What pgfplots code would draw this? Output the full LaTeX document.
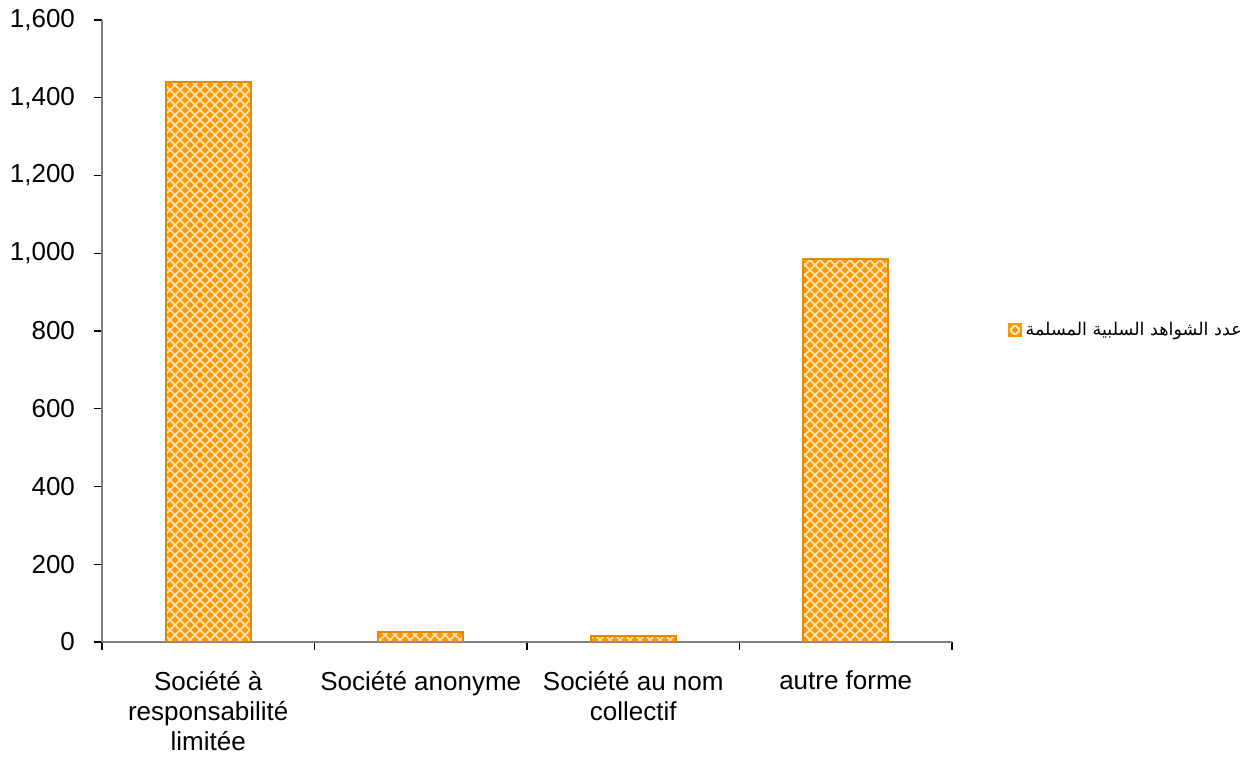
\documentclass[border=0pt]{standalone}
\usepackage{fontspec}
\setmainfont{Liberation Sans}
\newfontfamily\arabicfont[Script=Arabic]{DejaVu Sans}
\TeXXeTstate=1
\usepackage{pgfplots}
\pgfplotsset{compat=1.18}
\usetikzlibrary{patterns,calc}
\definecolor{barorange}{HTML}{FF9900}
\definecolor{axgray}{HTML}{808080}
\pgfdeclarepatternformonly{diamondmesh}{\pgfqpoint{-1pt}{-1pt}}{\pgfqpoint{6pt}{6pt}}{\pgfqpoint{5pt}{5pt}}{%
  \pgfsetlinewidth{0.75pt}%
  \pgfpathmoveto{\pgfqpoint{0pt}{0pt}}\pgfpathlineto{\pgfqpoint{5pt}{5pt}}%
  \pgfpathmoveto{\pgfqpoint{0pt}{5pt}}\pgfpathlineto{\pgfqpoint{5pt}{0pt}}%
  \pgfusepath{stroke}%
}
\begin{document}
\begin{tikzpicture}
\begin{axis}[
  name=ax,
  scale only axis,
  width=425pt, height=311pt,
  xmin=-0.5, xmax=3.5,
  ymin=0, ymax=1600,
  ytick={0,200,...,1600},
  xtick={0,1,2,3},
  xticklabels={{Société à\\responsabilité\\limitée},{Société anonyme},{Société au nom\\collectif},{autre forme}},
  x tick label style={align=center, font=\fontsize{13}{15}\selectfont, yshift=-7pt},
  y tick label style={font=\fontsize{13}{15}\selectfont, xshift=-6pt},
  minor xtick={-0.5,0.5,1.5,2.5,3.5},
  major x tick style={draw=none},
  minor tick length=4pt,
  major tick length=4pt,
  tick align=outside,
  axis lines*=left,
  axis line style={axgray, line width=0.8pt},
  tick style={black, line width=0.6pt},
  /pgf/number format/.cd, 1000 sep={,}, assume math mode=true,
  /pgfplots/.cd,
  ybar,
  bar width=0.4,
  legend style={draw=none, fill=none, at={(1.2055,0.5016)}, anchor=center, font=\fontsize{8.8}{11}\selectfont, legend cell align=left},
  legend image code/.code={
    \draw[fill=barorange, draw=barorange, postaction={pattern=diamondmesh, pattern color=white!80!barorange}] (0pt,-3pt) rectangle (6pt,3pt);
  },
]
\addplot[fill=barorange, draw=barorange!90!black, line width=1pt, postaction={pattern=diamondmesh, pattern color=white!75!barorange}]
  coordinates {(0,1440) (1,25) (2,15) (3,985)};
\addlegendentry{\arabicfont\beginR عدد الشواهد السلبية المسلمة\endR}
\end{axis}
\pgfresetboundingbox
\path ($(ax.south west)+(-51pt,-59pt)$) rectangle ($(ax.south west)+(576pt,321pt)$);
\end{tikzpicture}
\end{document}
